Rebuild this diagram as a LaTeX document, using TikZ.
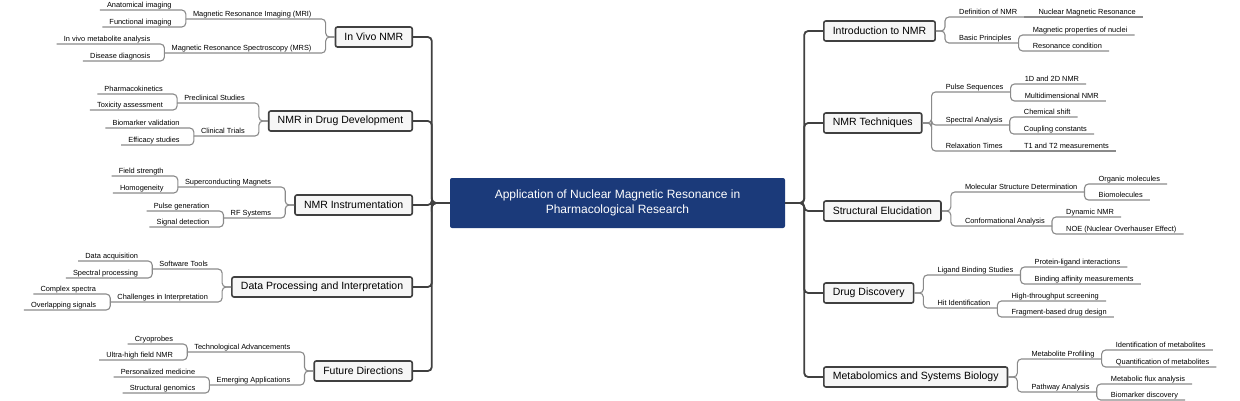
\documentclass[tikz,border=0pt]{standalone}
\usepackage{fontspec}
\setmainfont{Liberation Sans}
\usetikzlibrary{calc}
\definecolor{navy}{HTML}{1B3A7A}
\definecolor{trunkgray}{HTML}{404040}
\definecolor{linegray}{HTML}{8A8A8A}
\definecolor{boxfill}{HTML}{F6F6F6}

\tikzset{
  root/.style={fill=navy, text=white, rounded corners=2pt, minimum width=335pt, minimum height=50pt, align=center, font=\fontsize{12}{14.5}\selectfont},
  topic/.style={draw=trunkgray, line width=1.6pt, fill=boxfill, rounded corners=2pt, minimum height=20pt, inner xsep=9pt, font=\fontsize{10.5}{12}\selectfont},
  lbl/.style={inner xsep=7pt, inner ysep=1pt, text height=5.6pt, text depth=1.8pt, font=\fontsize{7.4}{9}\selectfont},
  trunk/.style={draw=trunkgray, line width=1.8pt, rounded corners=4pt},
  conn/.style={draw=linegray, line width=1.1pt, rounded corners=4pt}
}

\begin{document}
\begin{tikzpicture}[x=1pt,y=-1pt]
\useasboundingbox (0,0) rectangle (1240,400);

% root
\node[root] (app) at (617.5,203) {Application of Nuclear Magnetic Resonance in\\Pharmacological Research};

% left topics
\node[topic, anchor=east] (viv) at (413,37) {In Vivo NMR};
\node[topic, anchor=east] (dev) at (413,121) {NMR in Drug Development};
\node[topic, anchor=east] (ins) at (413,205) {NMR Instrumentation};
\node[topic, anchor=east] (dat) at (413,287) {Data Processing and Interpretation};
\node[topic, anchor=east] (fut) at (413,371) {Future Directions};

% right topics
\node[topic, anchor=west] (int) at (823,31) {Introduction to NMR};
\node[topic, anchor=west] (nmt) at (823,123) {NMR Techniques};
\node[topic, anchor=west] (sel) at (823,211) {Structural Elucidation};
\node[topic, anchor=west] (ddi) at (823,293) {Drug Discovery};
\node[topic, anchor=west] (met) at (823,377) {Metabolomics and Systems Biology};

% trunks
\foreach \t in {viv,dev,ins,dat,fut}
  \draw[trunk] (app.west) -- ++(-18,0) |- (\t.east);
\foreach \t in {int,nmt,sel,ddi,met}
  \draw[trunk] (app.east) -- ++(19,0) |- (\t.west);

% ---- left subtopics
\node[lbl, anchor=south east] (mri) at ($(viv.west)+(-16,-18)$) {Magnetic Resonance Imaging (MRI)};
\node[lbl, anchor=south east] (mrs) at ($(viv.west)+(-16,16)$) {Magnetic Resonance Spectroscopy (MRS)};
\node[lbl, anchor=south east] (ana) at ($(mri.south west)+(-7,-9)$) {Anatomical imaging};
\node[lbl, anchor=south east] (fun) at ($(mri.south west)+(-7,8)$) {Functional imaging};
\node[lbl, anchor=south east] (ivm) at ($(mrs.south west)+(-7,-9)$) {In vivo metabolite analysis};
\node[lbl, anchor=south east] (dis) at ($(mrs.south west)+(-7,8)$) {Disease diagnosis};

\node[lbl, anchor=south east] (pre) at ($(dev.west)+(-16,-18)$) {Preclinical Studies};
\node[lbl, anchor=south east] (cli) at ($(dev.west)+(-16,15)$) {Clinical Trials};
\node[lbl, anchor=south east] (pha) at ($(pre.south west)+(-7,-9)$) {Pharmacokinetics};
\node[lbl, anchor=south east] (tox) at ($(pre.south west)+(-7,7)$) {Toxicity assessment};
\node[lbl, anchor=south east] (bva) at ($(cli.south west)+(-7,-8)$) {Biomarker validation};
\node[lbl, anchor=south east] (eff) at ($(cli.south west)+(-7,9)$) {Efficacy studies};

\node[lbl, anchor=south east] (sup) at ($(ins.west)+(-16,-18)$) {Superconducting Magnets};
\node[lbl, anchor=south east] (rfs) at ($(ins.west)+(-16,13)$) {RF Systems};
\node[lbl, anchor=south east] (fie) at ($(sup.south west)+(-7,-11)$) {Field strength};
\node[lbl, anchor=south east] (hom) at ($(sup.south west)+(-7,6)$) {Homogeneity};
\node[lbl, anchor=south east] (pge) at ($(rfs.south west)+(-7,-7)$) {Pulse generation};
\node[lbl, anchor=south east] (sde) at ($(rfs.south west)+(-7,9)$) {Signal detection};

\node[lbl, anchor=south east] (sof) at ($(dat.west)+(-16,-18)$) {Software Tools};
\node[lbl, anchor=south east] (cha) at ($(dat.west)+(-16,15)$) {Challenges in Interpretation};
\node[lbl, anchor=south east] (acq) at ($(sof.south west)+(-7,-8)$) {Data acquisition};
\node[lbl, anchor=south east] (spp) at ($(sof.south west)+(-7,9)$) {Spectral processing};
\node[lbl, anchor=south east] (cpx) at ($(cha.south west)+(-7,-8)$) {Complex spectra};
\node[lbl, anchor=south east] (ovl) at ($(cha.south west)+(-7,8)$) {Overlapping signals};

\node[lbl, anchor=south east] (tad) at ($(fut.west)+(-16,-19)$) {Technological Advancements};
\node[lbl, anchor=south east] (eap) at ($(fut.west)+(-16,14)$) {Emerging Applications};
\node[lbl, anchor=south east] (cry) at ($(tad.south west)+(-7,-8)$) {Cryoprobes};
\node[lbl, anchor=south east] (uhf) at ($(tad.south west)+(-7,8)$) {Ultra-high field NMR};
\node[lbl, anchor=south east] (per) at ($(eap.south west)+(-7,-8)$) {Personalized medicine};
\node[lbl, anchor=south east] (sge) at ($(eap.south west)+(-7,8)$) {Structural genomics};

\foreach \p/\c in {viv/mri,viv/mrs,dev/pre,dev/cli,ins/sup,ins/rfs,dat/sof,dat/cha,fut/tad,fut/eap}
  \draw[conn] (\p.west) -- ++(-9,0) |- (\c.south west);
\foreach \p/\c in {mri/ana,mri/fun,mrs/ivm,mrs/dis,pre/pha,pre/tox,cli/bva,cli/eff,sup/fie,sup/hom,rfs/pge,rfs/sde,sof/acq,sof/spp,cha/cpx,cha/ovl,tad/cry,tad/uhf,eap/per,eap/sge}
  \draw[conn] (\p.south west) |- (\c.south west);

% ---- right subtopics
\node[lbl, anchor=south west] (def) at ($(int.east)+(16,-14)$) {Definition of NMR};
\node[lbl, anchor=south west] (bas) at ($(int.east)+(16,12)$) {Basic Principles};
\node[lbl, anchor=south west] (nuc) at ($(def.south east)+(7,0)$) {Nuclear Magnetic Resonance};
\node[lbl, anchor=south west] (mag) at ($(bas.south east)+(7,-8)$) {Magnetic properties of nuclei};
\node[lbl, anchor=south west] (res) at ($(bas.south east)+(7,8)$) {Resonance condition};

\node[lbl, anchor=south west] (seq) at ($(nmt.east)+(16,-31)$) {Pulse Sequences};
\node[lbl, anchor=south west] (spa) at ($(nmt.east)+(16,2)$) {Spectral Analysis};
\node[lbl, anchor=south west] (rel) at ($(nmt.east)+(16,28)$) {Relaxation Times};
\node[lbl, anchor=south west] (dtd) at ($(seq.south east)+(7,-8)$) {1D and 2D NMR};
\node[lbl, anchor=south west] (mdn) at ($(seq.south east)+(7,9)$) {Multidimensional NMR};
\node[lbl, anchor=south west] (chs) at ($(spa.south east)+(7,-8)$) {Chemical shift};
\node[lbl, anchor=south west] (cco) at ($(spa.south east)+(7,9)$) {Coupling constants};
\node[lbl, anchor=south west] (tmt) at ($(rel.south east)+(7,0)$) {T1 and T2 measurements};

\node[lbl, anchor=south west] (msd) at ($(sel.east)+(16,-19)$) {Molecular Structure Determination};
\node[lbl, anchor=south west] (cfa) at ($(sel.east)+(16,15)$) {Conformational Analysis};
\node[lbl, anchor=south west] (org) at ($(msd.south east)+(7,-8)$) {Organic molecules};
\node[lbl, anchor=south west] (bmo) at ($(msd.south east)+(7,8)$) {Biomolecules};
\node[lbl, anchor=south west] (dyn) at ($(cfa.south east)+(7,-9)$) {Dynamic NMR};
\node[lbl, anchor=south west] (noe) at ($(cfa.south east)+(7,8)$) {NOE (Nuclear Overhauser Effect)};

\node[lbl, anchor=south west] (lbs) at ($(ddi.east)+(16,-18)$) {Ligand Binding Studies};
\node[lbl, anchor=south west] (hit) at ($(ddi.east)+(16,15)$) {Hit Identification};
\node[lbl, anchor=south west] (pli) at ($(lbs.south east)+(7,-8)$) {Protein-ligand interactions};
\node[lbl, anchor=south west] (baf) at ($(lbs.south east)+(7,9)$) {Binding affinity measurements};
\node[lbl, anchor=south west] (hts) at ($(hit.south east)+(7,-7)$) {High-throughput screening};
\node[lbl, anchor=south west] (fbd) at ($(hit.south east)+(7,9)$) {Fragment-based drug design};

\node[lbl, anchor=south west] (mpr) at ($(met.east)+(16,-18)$) {Metabolite Profiling};
\node[lbl, anchor=south west] (pwa) at ($(met.east)+(16,15)$) {Pathway Analysis};
\node[lbl, anchor=south west] (idm) at ($(mpr.south east)+(7,-9)$) {Identification of metabolites};
\node[lbl, anchor=south west] (qtm) at ($(mpr.south east)+(7,8)$) {Quantification of metabolites};
\node[lbl, anchor=south west] (mfa) at ($(pwa.south east)+(7,-8)$) {Metabolic flux analysis};
\node[lbl, anchor=south west] (bdi) at ($(pwa.south east)+(7,8)$) {Biomarker discovery};

\foreach \p/\c in {int/def,int/bas,nmt/seq,nmt/spa,nmt/rel,sel/msd,sel/cfa,ddi/lbs,ddi/hit,met/mpr,met/pwa}
  \draw[conn] (\p.east) -- ++(9,0) |- (\c.south east);
\foreach \p/\c in {bas/mag,bas/res,seq/dtd,seq/mdn,spa/chs,spa/cco,msd/org,msd/bmo,cfa/dyn,cfa/noe,lbs/pli,lbs/baf,hit/hts,hit/fbd,mpr/idm,mpr/qtm,pwa/mfa,pwa/bdi}
  \draw[conn] (\p.south east) |- (\c.south east);
\foreach \p/\c in {def/nuc,rel/tmt}
  \draw[conn] (\p.south east) -- (\c.south east);
\end{tikzpicture}
\end{document}
